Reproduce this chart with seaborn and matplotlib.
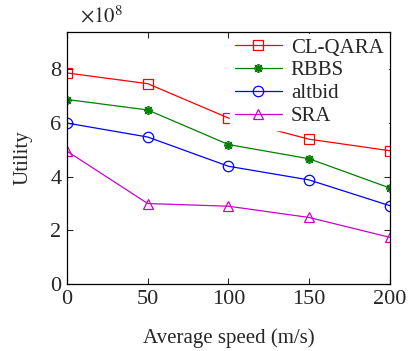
import pandas as pd
import matplotlib
matplotlib.use("Agg")
import matplotlib.pyplot as plt
import seaborn as sns

speeds = [0, 50, 100, 150, 200]
clqara = [7.87, 7.47, 6.19, 5.40, 4.97]
rbbs = [6.88, 6.49, 5.20, 4.67, 3.58]
altbid = [6.00, 5.48, 4.39, 3.88, 2.92]
sra = [4.95, 3.00, 2.90, 2.48, 1.74]

series = ["CL-QARA", "RBBS", "altbid", "SRA"]
values = [clqara, rbbs, altbid, sra]
colors = ["#ff0000", "#008000", "#0000ff", "#cc00cc"]
markers = ["s", (8, 2, 0), "o", "^"]

sns.set_style("ticks")
plt.rcParams["font.family"] = ["Liberation Serif", "DejaVu Serif"]
plt.rcParams["mathtext.fontset"] = "stix"

fig = plt.figure(figsize=(4.09, 3.51), dpi=100)
ax = fig.add_axes([0.164, 0.191, 0.789, 0.718])

for name, vals, c, m in zip(series, values, colors, markers):
    df = pd.DataFrame({"speed": speeds, "utility": vals})
    star = name == "RBBS"
    sns.lineplot(data=df, x="speed", y="utility", ax=ax, color=c, marker=m,
                 markersize=6.5 if star else 7.5, linewidth=0.9,
                 markerfacecolor=c if star else "none",
                 markeredgecolor=c, markeredgewidth=1.2 if star else 0.9,
                 label=name)

ax.set_xlim(0, 200)
ax.set_ylim(0, 9.4)
ax.set_xticks(speeds)
ax.set_yticks([0, 2, 4, 6, 8])
ax.tick_params(direction="in", top=True, right=True, labelsize=16, length=4,
               width=0.8, pad=4)
for s in ax.spines.values():
    s.set_linewidth(0.9)
    s.set_color("black")

ax.set_xlabel("Average speed (m/s)", fontsize=15, labelpad=14)
ax.set_ylabel("Utility", fontsize=15, labelpad=13)
ax.text(0.04, 1.02, r"$\times10^{8}$", transform=ax.transAxes, fontsize=15,
        ha="left", va="bottom")

leg = ax.legend(loc="upper right", fontsize=15, frameon=True, fancybox=False,
                handlelength=2.3, handletextpad=0.4, labelspacing=0.15,
                borderaxespad=0.1, borderpad=0.2)
leg.get_frame().set_edgecolor("white")
leg.get_frame().set_facecolor("white")
leg.get_frame().set_alpha(1)

fig.savefig("out.png", dpi=100)
